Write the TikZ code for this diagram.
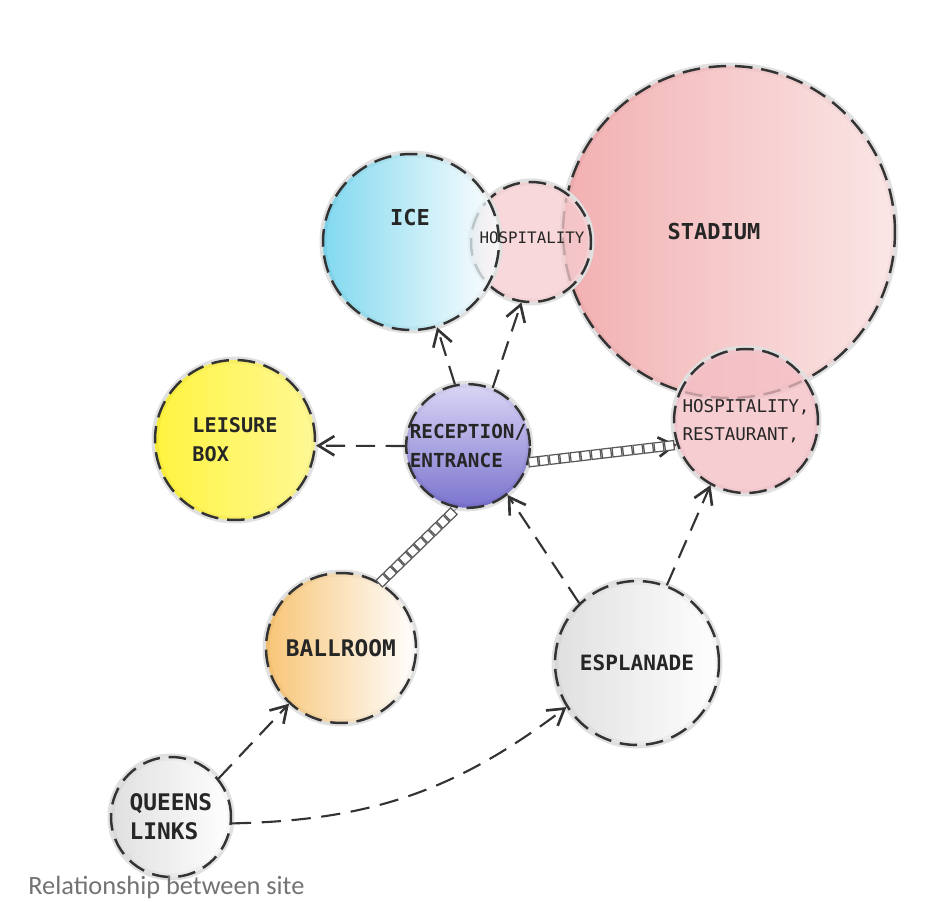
\documentclass[tikz,border=0pt]{standalone}
\usepackage{fontspec}
\setmonofont{DejaVu Sans Mono}
\newfontfamily\capfont{Carlito}
\usetikzlibrary{arrows.meta,decorations.markings}

\definecolor{icecyan}{RGB}{88,204,234}
\definecolor{hosppink}{RGB}{246,204,208}
\definecolor{stadpink}{RGB}{238,150,152}
\definecolor{stadlight}{RGB}{250,222,222}
\definecolor{restpink}{RGB}{244,190,196}
\definecolor{leisyellow}{RGB}{255,240,0}
\definecolor{recdark}{RGB}{80,70,190}
\definecolor{reclight}{RGB}{205,200,242}
\definecolor{ballorange}{RGB}{246,178,74}
\definecolor{palegrey}{RGB}{214,214,214}

\tikzset{
  bubble/.style={circle,inner sep=0pt,draw=black!80,line width=1.4pt,
    dash pattern=on 10pt off 5pt,fill opacity=0.75,text opacity=1,
    align=left,text=black!85,font=\ttfamily\bfseries\fontsize{12}{16}\selectfont,
    preaction={draw=black!12,solid,line width=4pt}},
  tag/.style={inner sep=0pt,text=black!85,font=\ttfamily\bfseries\fontsize{12.5}{16}\selectfont},
  link/.style={draw=black!80,line width=1.2pt,dash pattern=on 11pt off 6pt,
    -{Straight Barb[length=9pt,width=11pt,line width=1.5pt]}},
  chain/.style={draw=black!50,line width=0.4pt,
    decoration={markings,mark=between positions 0.03 and 0.97 step 6pt with
      {\node[draw=black!65,line width=0.7pt,fill=white,minimum size=5.2pt,inner sep=0pt,transform shape]{};}},
    postaction={decorate}}
}

\begin{document}
\begin{tikzpicture}[x=0.02cm,y=-0.02cm]
  \useasboundingbox[fill=white] (0,0) rectangle (951,902);

  % bubbles
  \node[bubble,minimum size=6.64cm,left color=stadpink,right color=stadlight] (stadium) at (729,232) {};
  \node[bubble,minimum size=2.4cm,fill=hosppink] (hosp) at (531,242) {};
  \node[bubble,minimum size=3.52cm,left color=icecyan,right color=white] (ice) at (411,242) {};
  \node[bubble,minimum size=2.88cm,fill=restpink,font=\ttfamily\fontsize{10}{16}\selectfont] (rest) at (746,421) {HOSPITALITY,\\RESTAURANT,};
  \node[bubble,minimum size=3.2cm,left color=leisyellow,right color=leisyellow!55!white,font=\ttfamily\bfseries\fontsize{11.5}{16.5}\selectfont] (leisure) at (235,440) {LEISURE\\BOX};
  \node[bubble,minimum size=2.32cm,bottom color=recdark,top color=reclight,font=\ttfamily\bfseries\fontsize{11}{16}\selectfont] (recep) at (468,446) {RECEPTION/\\ENTRANCE};
  \node[bubble,minimum size=3.0cm,left color=ballorange,right color=white,font=\ttfamily\bfseries\fontsize{13}{16}\selectfont] (ballroom) at (341,648) {BALLROOM};
  \node[bubble,minimum size=3.28cm,left color=palegrey,right color=white] (espl) at (637,663) {ESPLANADE};
  \node[bubble,minimum size=2.4cm,left color=palegrey,right color=white,font=\ttfamily\bfseries\fontsize{13}{16.5}\selectfont] (queens) at (171,817) {QUEENS\\LINKS};

  \node[tag] (icetxt) at (410,218) {ICE};
  \node[tag,font=\ttfamily\fontsize{9}{11}\selectfont] (hosptxt) at (532,238) {HOSPITALITY};
  \node[tag] (stadtxt) at (714,232) {STADIUM};

  % links
  \draw[link] (recep.102) -- (ice.-73);
  \draw[link] (recep.67) -- (hosp.-99);
  \draw[link] (recep.180) -- (leisure.-4);
  \draw[link] (espl.134) -- (recep.-51);
  \draw[link] (espl.69) -- (rest.-119);
  \draw[link] (queens.39) -- (ballroom.-133);
  \draw[link] (queens.-6) to[bend right=18] (espl.-148);
  \draw[chain,-{Straight Barb[length=9pt,width=11pt,line width=1.5pt,color=black!80]}] (recep.-15) -- (rest.-161);
  \draw[chain] (ballroom.59) -- (recep.-100);

  \node[anchor=west,inner sep=0pt,text=black!55,font=\capfont\fontsize{15}{17}\selectfont] (caption) at (28,887) {Relationship between site};
\end{tikzpicture}
\end{document}
